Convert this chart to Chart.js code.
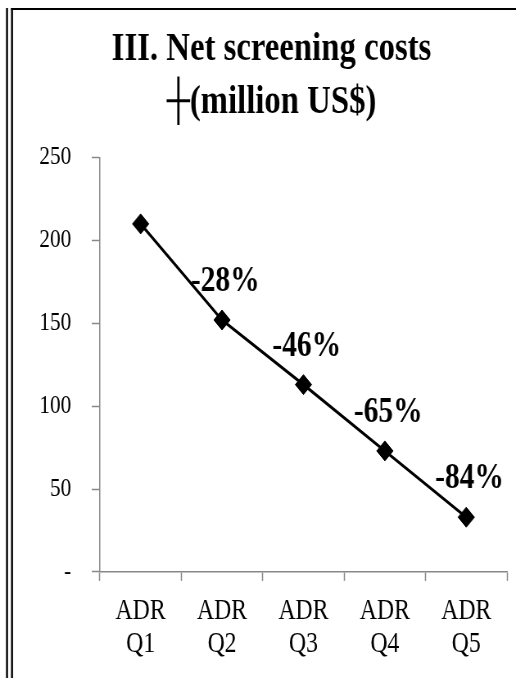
<!DOCTYPE html>
<html>
<head>
<meta charset="utf-8">
<script src="https://cdn.jsdelivr.net/npm/chart.js@4.4.1/dist/chart.umd.min.js"></script>
<style>
  html, body { margin: 0; padding: 0; background: #fff; overflow: hidden; }
  #wrap { position: absolute; left: 0; top: 0; width: 630px; height: 678px; transform: scaleX(0.819); transform-origin: 0 0; }
</style>
</head>
<body>
<div id="wrap"><canvas id="c" width="630" height="678" style="width:630px;height:678px;"></canvas></div>
<script>
const categories = [['ADR', 'Q1'], ['ADR', 'Q2'], ['ADR', 'Q3'], ['ADR', 'Q4'], ['ADR', 'Q5']];
const netCosts = [210, 152, 113, 73, 33];
const changeLabels = ['', '-28%', '-46%', '-65%', '-84%'];
const yTickValues = [0, 50, 100, 150, 200, 250];
const yTickLabels = ['-', '50', '100', '150', '200', '250'];
const titleLines = ['III. Net screening costs', '\u253C(million US$)'];
const SERIF = '"Liberation Serif", "Times New Roman", Times, serif';
const SX = 0.819;

const frameLinesPlugin = {
  id: 'frameLines',
  beforeDraw(chart) {
    const ctx = chart.ctx;
    ctx.save();
    ctx.fillStyle = '#000';
    ctx.fillRect(6 / SX, 8, 2 / SX, 670);
    ctx.fillRect(11 / SX, 8, 2 / SX, 670);
    ctx.fillRect(11 / SX, 8, chart.width, 2);
    ctx.restore();
  }
};

const changeLabelPlugin = {
  id: 'changeLabels',
  afterDatasetsDraw(chart) {
    const ctx = chart.ctx; const meta = chart.getDatasetMeta(0);
    ctx.save(); ctx.font = 'bold 36px ' + SERIF; ctx.fillStyle = '#000'; ctx.textAlign = 'center'; ctx.textBaseline = 'alphabetic';
    meta.data.forEach((pt, i) => { const t = changeLabels[i]; if (t) ctx.fillText(t, pt.x + 4, pt.y - 29); });
    ctx.restore();
  }
};

new Chart(document.getElementById('c'), {
  type: 'line',
  data: { labels: categories, datasets: [{ data: netCosts, borderColor: '#000', backgroundColor: '#000', borderWidth: 3, tension: 0,
      pointStyle: 'rectRot', pointRadius: 10, pointHoverRadius: 10, pointBorderWidth: 1, pointBackgroundColor: '#000', pointBorderColor: '#000' }] },
  options: {
    responsive: false, maintainAspectRatio: false, animation: false, devicePixelRatio: 1,
    layout: { padding: { left: 44, right: 11, top: 0, bottom: 3 } },
    plugins: { legend: { display: false }, tooltip: { enabled: false },
      title: { display: true, text: titleLines, color: '#000', font: { family: SERIF, size: 40, weight: 'bold', lineHeight: 1.32 }, padding: { top: 23, bottom: 29 } } },
    scales: {
      x: { offset: true,
        grid: { display: true, drawOnChartArea: false, drawTicks: true, tickLength: 9, offset: true, color: '#888', tickWidth: 1.5 },
        border: { display: true, color: '#888', width: 1.5 },
        ticks: { color: '#000', padding: 14, maxRotation: 0, autoSkip: false, font: { family: SERIF, size: 29, lineHeight: 1.14 } } },
      y: { min: 0, max: 250,
        afterFit(scale) { scale.width = 78; scale._computeLabelArea = () => undefined; },
        afterBuildTicks(scale) { scale.ticks = yTickValues.map(v => ({ value: v })); },
        grid: { display: true, drawOnChartArea: false, drawTicks: true, tickLength: 10, color: '#888', tickWidth: 1.5 },
        border: { display: true, color: '#888', width: 1.5 },
        ticks: { color: '#000', padding: 25, font: { family: SERIF, size: 26 },
          callback(v) { const i = yTickValues.indexOf(v); return i >= 0 ? yTickLabels[i] : ''; } } }
    }
  },
  plugins: [frameLinesPlugin, changeLabelPlugin]
});
</script>
</body>
</html>
